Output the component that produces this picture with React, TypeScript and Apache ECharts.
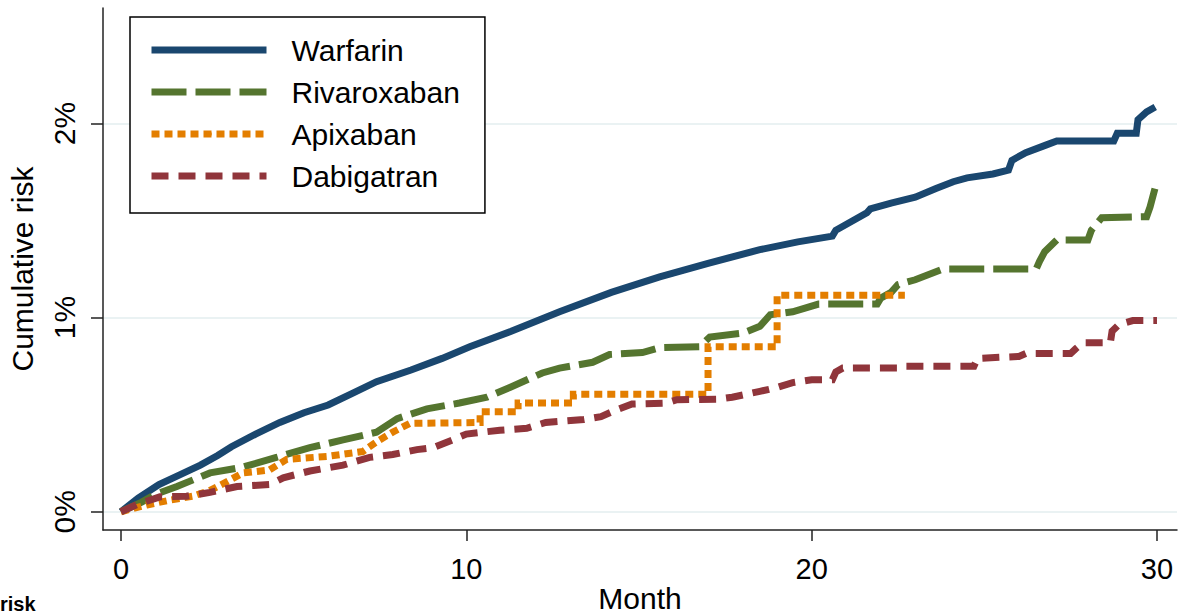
import React, { useEffect, useRef } from "react";
import * as echarts from "echarts";

const FONT = "'Liberation Sans', Arial, Helvetica, sans-serif";

const seriesNames = ["Warfarin", "Rivaroxaban", "Apixaban", "Dabigatran"];
const xTicks = [0, 10, 20, 30];
const yTicks = [0, 1, 2];

const warfarinMonth = [0, 0.5, 1.1, 1.7, 2.3, 2.8, 3.2, 3.9, 4.6, 5.3, 6.0, 6.7, 7.4, 8.4, 9.3, 10.1, 11.3, 12.7, 14.2, 15.6, 17.0, 18.5, 19.6, 20.6, 20.7, 21.6, 21.7, 22.3, 23.0, 23.6, 24.1, 24.5, 25.25, 25.7, 25.8, 26.2, 26.8, 27.1, 28.75, 28.85, 29.4, 29.45, 29.7, 29.95];
const warfarinRisk = [0, 0.07, 0.14, 0.19, 0.24, 0.29, 0.335, 0.4, 0.46, 0.51, 0.55, 0.61, 0.67, 0.73, 0.79, 0.85, 0.93, 1.03, 1.13, 1.21, 1.28, 1.35, 1.39, 1.42, 1.45, 1.54, 1.56, 1.59, 1.62, 1.665, 1.7, 1.72, 1.74, 1.76, 1.81, 1.85, 1.89, 1.91, 1.91, 1.95, 1.95, 2.02, 2.06, 2.085];

const rivaroxabanMonth = [0, 0.6, 1.0, 1.62, 2.58, 3.53, 4.5, 5.47, 6.43, 7.4, 8.0, 8.86, 9.8, 10.6, 11.26, 12.2, 12.7, 13.66, 14.15, 15.1, 15.6, 16.76, 17.05, 18.0, 18.5, 18.8, 19.45, 20.2, 21.9, 22.0, 22.3, 22.5, 23.0, 23.8, 26.5, 26.6, 26.75, 27.1, 28.0, 28.1, 28.4, 29.7, 29.8, 29.95, 30.0];
const rivaroxabanRisk = [0, 0.05, 0.09, 0.13, 0.2, 0.23, 0.28, 0.33, 0.37, 0.41, 0.48, 0.53, 0.56, 0.59, 0.64, 0.715, 0.74, 0.77, 0.81, 0.82, 0.845, 0.85, 0.9, 0.92, 0.955, 1.015, 1.03, 1.07, 1.07, 1.1, 1.13, 1.17, 1.195, 1.25, 1.25, 1.29, 1.34, 1.4, 1.4, 1.45, 1.515, 1.52, 1.57, 1.67, 1.7];

const apixabanMonth = [0, 0.75, 1.42, 2.08, 2.58, 3.07, 3.53, 4.3, 4.8, 5.96, 7.0, 7.4, 7.87, 8.36, 10.4, 10.4, 11.5, 11.5, 13.1, 13.1, 17.0, 17.0, 19.0, 19.0, 22.7];
const apixabanRisk = [0, 0.035, 0.06, 0.08, 0.11, 0.155, 0.2, 0.215, 0.27, 0.285, 0.31, 0.36, 0.41, 0.455, 0.46, 0.515, 0.515, 0.56, 0.56, 0.605, 0.605, 0.85, 0.85, 1.115, 1.115];

const dabigatranMonth = [0, 0.5, 1.13, 1.9, 2.58, 3.36, 4.3, 4.7, 5.47, 6.43, 7.2, 7.87, 8.57, 9.03, 9.6, 10.0, 10.97, 11.75, 12.3, 13.4, 13.9, 14.35, 14.8, 15.8, 16.1, 17.3, 17.7, 18.5, 19.0, 19.45, 20.0, 20.6, 20.7, 20.9, 22.6, 22.7, 24.7, 24.8, 26.0, 26.2, 27.5, 27.65, 27.85, 28.65, 28.7, 28.9, 29.3, 30.0];
const dabigatranRisk = [0, 0.04, 0.077, 0.08, 0.1, 0.13, 0.14, 0.175, 0.21, 0.24, 0.28, 0.295, 0.32, 0.33, 0.37, 0.4, 0.42, 0.43, 0.46, 0.475, 0.49, 0.525, 0.555, 0.56, 0.577, 0.58, 0.59, 0.62, 0.64, 0.665, 0.68, 0.68, 0.72, 0.74, 0.74, 0.75, 0.75, 0.79, 0.8, 0.815, 0.815, 0.84, 0.87, 0.87, 0.93, 0.965, 0.985, 0.985];

const colors = ["#1a476f", "#55752f", "#e37e00", "#90353b"];
const dashes: (string | number[])[] = ["solid", [35, 9], [8, 5], [17, 10]];

function pairs(xs: number[], ys: number[]) {
  return xs.map((x, i) => [x, ys[i]]);
}

export default function App() {
  const ref = useRef<HTMLDivElement>(null);
  useEffect(() => {
    document.body.style.margin = "0";
    const chart = echarts.init(ref.current!, undefined, { renderer: "svg" });
    const data = [
      pairs(warfarinMonth, warfarinRisk),
      pairs(rivaroxabanMonth, rivaroxabanRisk),
      pairs(apixabanMonth, apixabanRisk),
      pairs(dabigatranMonth, dabigatranRisk),
    ];
    chart.setOption({
      animation: false,
      backgroundColor: "#ffffff",
      textStyle: { fontFamily: FONT },
      grid: { left: 103, right: 16, top: 8, bottom: 86, containLabel: false, outerBoundsMode: "none" },
      xAxis: {
        type: "value",
        min: -0.52,
        max: 30.58,
        name: "Month",
        nameLocation: "middle",
        nameGap: 52,
        nameMoveOverlap: false,
        nameTextStyle: { fontSize: 30, color: "#000", fontFamily: FONT, lineHeight: 32 },
        axisLine: { show: true, onZero: false, lineStyle: { color: "#222", width: 1.5 } },
        axisTick: { show: true, length: 11, customValues: xTicks, lineStyle: { color: "#222", width: 1.5 } },
        axisLabel: { customValues: xTicks, fontSize: 29, color: "#000", margin: 24, fontFamily: FONT },
        splitLine: { show: false },
      },
      yAxis: {
        type: "value",
        min: -0.094,
        max: 2.595,
        name: "Cumulative risk",
        nameLocation: "middle",
        nameGap: 66,
        nameMoveOverlap: false,
        nameTextStyle: { fontSize: 30, color: "#000", fontFamily: FONT },
        axisLine: { show: true, onZero: false, lineStyle: { color: "#222", width: 1.5 } },
        axisTick: { show: true, length: 12, customValues: yTicks, lineStyle: { color: "#222", width: 1.5 } },
        axisLabel: {
          customValues: yTicks,
          rotate: 90,
          fontSize: 30,
          color: "#000",
          margin: 24,
          fontFamily: FONT,
          formatter: (v: number) => `${v}%`,
        },
        splitLine: { show: true, customValues: yTicks, lineStyle: { color: "#eaf2f3", width: 2 } },
      },
      legend: {
        orient: "vertical",
        left: 130,
        top: 17,
        padding: [16, 25, 20, 18],
        borderColor: "#000",
        borderWidth: 1.5,
        backgroundColor: "#fff",
        itemWidth: 115,
        itemHeight: 7,
        itemGap: 8,
        data: seriesNames,
        lineStyle: { width: 7 },
        textStyle: { fontSize: 30, color: "#000", fontFamily: FONT, lineHeight: 30, padding: [4, 0, 0, 20] },
      },
      graphic: [
        {
          type: "text",
          left: 0,
          top: 594,
          style: { text: "risk", fontSize: 20, fontWeight: "bold", fill: "#000", fontFamily: FONT },
        },
      ],
      series: seriesNames.map((name, i) => ({
        name,
        type: "line",
        data: data[i],
        symbol: "none",
        showSymbol: false,
        lineStyle: { color: colors[i], width: 7, type: dashes[i], cap: "butt", join: "miter" },
        itemStyle: { color: colors[i] },
      })),
    });
    return () => chart.dispose();
  }, []);
  return <div ref={ref} style={{ width: 1193, height: 616 }} />;
}
